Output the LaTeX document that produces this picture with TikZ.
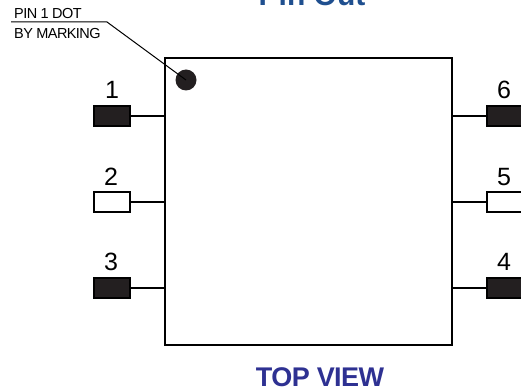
\documentclass[tikz,border=0pt]{standalone}
\usepackage{fontspec}
\setmainfont{Liberation Sans}
\definecolor{titleblue}{HTML}{2E3192}
\definecolor{titleteal}{HTML}{1F4F8F}
\definecolor{pinblack}{HTML}{231F20}
\tikzset{
  px/.style={x=1pt,y=-1pt},
  chip/.style={draw=black,line width=2pt,minimum width=287pt,minimum height=287pt,inner sep=0pt,outer sep=0pt},
  solidpin/.style={draw=black,fill=pinblack,line width=1.5pt,minimum width=36pt,minimum height=20pt,inner sep=0pt,outer sep=0pt},
  openpin/.style={draw=black,fill=white,line width=1.2pt,minimum width=36pt,minimum height=20pt,inner sep=0pt,outer sep=0pt},
  lead/.style={draw=black,line width=1.2pt},
  pinnum/.style={font=\fontsize{25}{25}\selectfont,text=black,inner sep=0pt},
  small/.style={font=\fontsize{14.5}{15}\selectfont\addfontfeature{LetterSpace=-4},text=black,inner sep=0pt,anchor=base west},
  heading/.style={font=\fontsize{27}{27}\selectfont\bfseries\addfontfeature{LetterSpace=-2},text=titleblue,inner sep=0pt,anchor=base},
  topheading/.style={font=\fontsize{30}{30}\selectfont\bfseries,text=titleteal,inner sep=0pt,anchor=base},
  dotmark/.style={circle,fill=pinblack,minimum size=21pt,inner sep=0pt,outer sep=0pt}
}
\begin{document}
\begin{tikzpicture}[px]
\useasboundingbox (0,0) rectangle (521,390);
\node[chip] (body) at (308.5,201.5) {};
\node[solidpin] (p1) at (112,116) {};
\node[openpin] (p2) at (112,202) {};
\node[solidpin] (p3) at (112,288) {};
\node[solidpin] (p6) at (505,116) {};
\node[openpin] (p5) at (505,202) {};
\node[solidpin] (p4) at (505,288) {};
\draw[lead] (p1.east) -- (p1.east -| body.west);
\draw[lead] (p2.east) -- (p2.east -| body.west);
\draw[lead] (p3.east) -- (p3.east -| body.west);
\draw[lead] (p6.west) -- (p6.west -| body.east);
\draw[lead] (p5.west) -- (p5.west -| body.east);
\draw[lead] (p4.west) -- (p4.west -| body.east);
\node[pinnum,anchor=base] (n1) at (112,99) {1};
\node[pinnum,anchor=base] (n2) at (111,185) {2};
\node[pinnum,anchor=base] (n3) at (111,270) {3};
\node[pinnum,anchor=base] (n6) at (504,99) {6};
\node[pinnum,anchor=base] (n5) at (504,185) {5};
\node[pinnum,anchor=base] (n4) at (504,270) {4};
\node[dotmark] (dot) at (186,80) {};
\coordinate (ruleL) at (11,22);
\coordinate (ruleR) at (107,22);
\draw[line width=1pt] (ruleL) -- (ruleR) -- (dot.center);
\node[small] (t1) at (14,19) {PIN 1 DOT};
\node[small] (t2) at (14,39) {BY MARKING};
\node[topheading] (title) at (312,6) {Pin Out};
\node[heading] (view) at (320,386) {TOP VIEW};
\end{tikzpicture}
\end{document}
